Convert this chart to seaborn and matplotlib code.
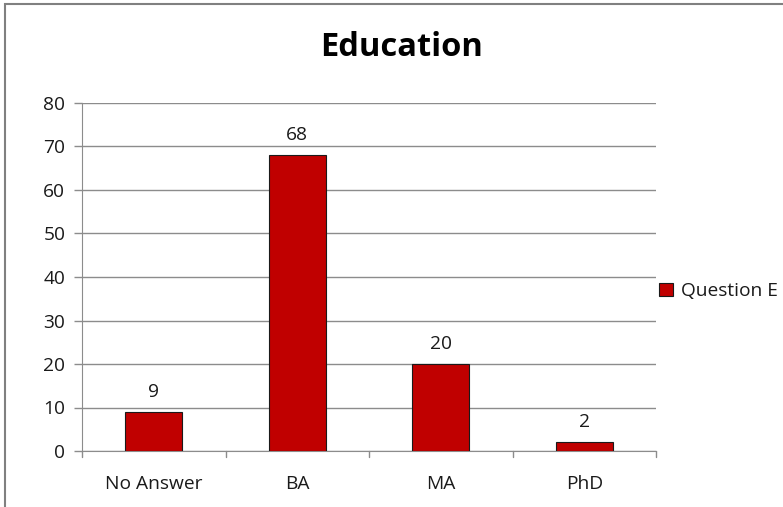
import pandas as pd
import matplotlib
matplotlib.use("Agg")
from matplotlib import pyplot as plt
from matplotlib.patches import Rectangle
import seaborn as sns

categories = ["No Answer", "BA", "MA", "PhD"]
values = [9, 68, 20, 2]
series = ["Question E"] * 4
y_ticks = [0, 10, 20, 30, 40, 50, 60, 70, 80]

df = pd.DataFrame({"category": categories, "value": values, "series": series})

sns.set_style("white")
plt.rcParams["font.family"] = ["Open Sans", "DejaVu Sans"]

fig = plt.figure(figsize=(7.83, 5.07), dpi=100)
ax = fig.add_axes([82 / 783, 1 - 451 / 507, (656 - 82) / 783, (451 - 103) / 507])

sns.barplot(data=df, x="category", y="value", hue="series", palette=["#C00000"],
            saturation=1, width=0.4, edgecolor="#1a1a1a", linewidth=0.8, ax=ax, zorder=3)

fs = 13.8
for c in ax.containers:
    ax.bar_label(c, labels=[str(v) for v in values], padding=8, fontsize=fs, color="#1a1a1a")

ax.set_xlim(-0.5, 3.5)
ax.set_ylim(0, 80)
ax.set_yticks(y_ticks)
ax.set_yticklabels([str(t) for t in y_ticks], fontsize=fs, color="#1a1a1a")
ax.tick_params(axis="x", labelsize=fs, labelcolor="#1a1a1a", length=0, pad=17)
ax.tick_params(axis="y", length=6, color="#8c8c8c", width=1, pad=6, left=True)
ax.set_xlabel("")
ax.set_ylabel("")
ax.grid(axis="y", color="#8c8c8c", linewidth=1, zorder=0)

# boundary ticks between categories
for b in [-0.5, 0.5, 1.5, 2.5, 3.5]:
    ax.plot([b, b], [0, -0.017], transform=ax.get_xaxis_transform(), color="#8c8c8c",
            linewidth=1, clip_on=False)

for s in ["top", "right"]:
    ax.spines[s].set_visible(False)
ax.spines["left"].set_color("#8c8c8c")
ax.spines["bottom"].set_color("#8c8c8c")

fig.text(402 / 783, 1 - 47 / 507, "Education", ha="center", va="center",
         fontsize=23.5, fontweight="bold", color="black")

leg = ax.legend(loc="center left", frameon=False, fontsize=fs, handlelength=0.7,
                handleheight=0.7, handletextpad=0.4, borderpad=0, borderaxespad=0)
leg.set_bbox_to_anchor((1.006, 0.46), transform=ax.transAxes)
for t in leg.get_texts():
    t.set_color("#1a1a1a")

# outer chart border
fig.patches.append(Rectangle((5 / 783, -0.1), 1.1, 1 - 4 / 507 + 0.1, transform=fig.transFigure,
                             fill=False, edgecolor="#808080", linewidth=1.5))

fig.savefig("out.png", dpi=100)
